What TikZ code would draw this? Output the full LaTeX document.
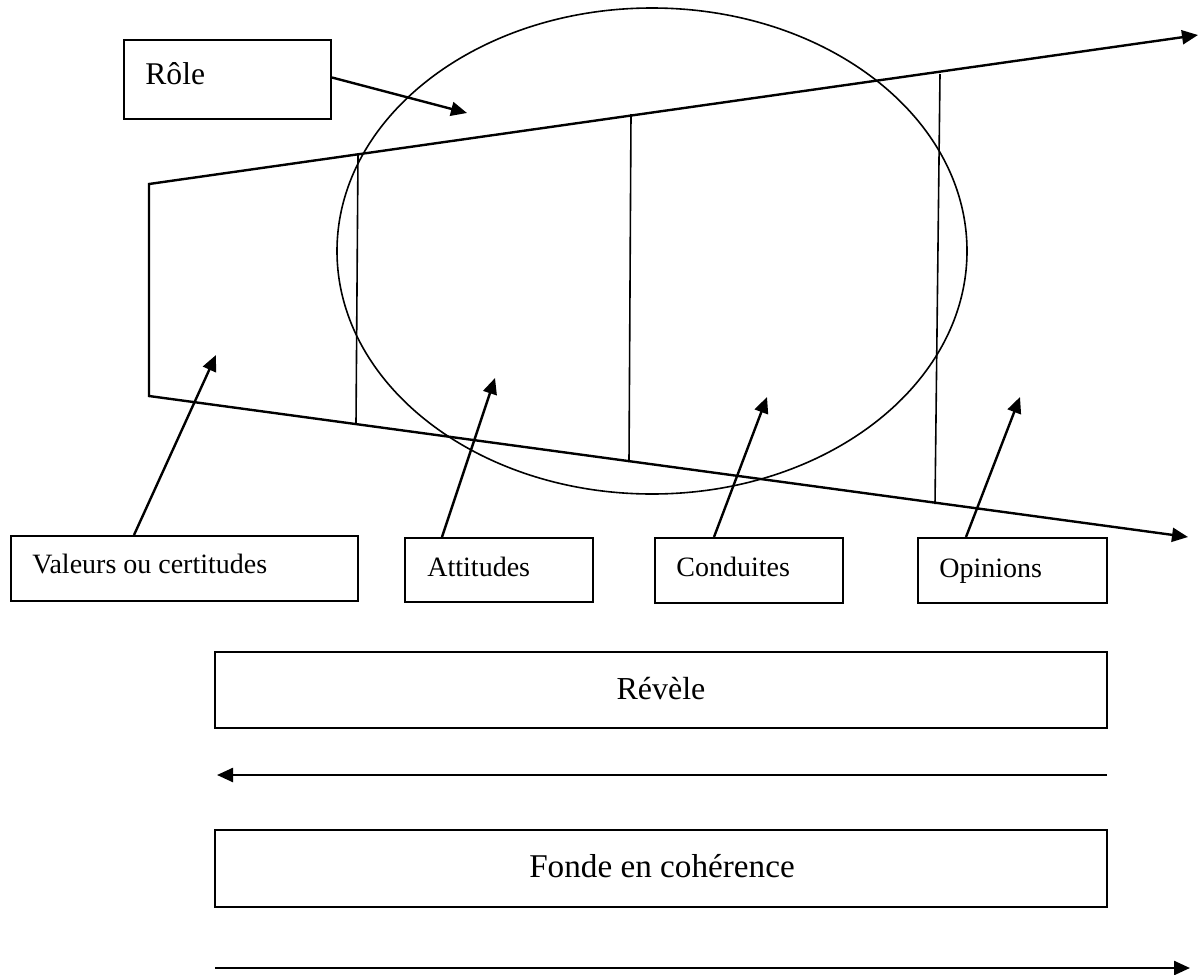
\documentclass[tikz,border=0pt]{standalone}
\usepackage{fontspec}
\setmainfont{Liberation Serif}
\usetikzlibrary{arrows.meta,calc}
\tikzset{
  box/.style={draw, line width=1pt, inner sep=0pt},
  lbl/.style={inner sep=0pt, font=\fontsize{14}{16}\selectfont},
  big/.style={inner sep=0pt, font=\fontsize{16}{19}\selectfont},
  tip/.tip={Triangle[length=8pt,width=7pt]},
  conn/.style={line width=1.2pt, -tip},
  thin/.style={line width=0.8pt},
}
\begin{document}
\begin{tikzpicture}[x=0.5pt,y=-0.5pt]
\useasboundingbox (0,0) rectangle (1200,975);
% ellipse
\draw[thin] (652,251) ellipse [x radius=315, y radius=243];
% trapezoid / funnel
\coordinate (tl) at (149,184);
\coordinate (bl) at (149,396);
\coordinate (tr) at (1198,35);
\coordinate (br) at (1188,537);
\draw[line width=1.2pt, line join=miter, tip-tip] (tr) -- (tl) -- (bl) -- (br);
% vertical dividers
\coordinate (v1t) at (358,154); \coordinate (v1b) at (356,424);
\coordinate (v2t) at (631,114); \coordinate (v2b) at (629,462);
\coordinate (v3t) at (940,74);  \coordinate (v3b) at (935,504);
\draw[thin] (v1t) -- (v1b);
\draw[thin] (v2t) -- (v2b);
\draw[thin] (v3t) -- (v3b);
% Role
\node[box, minimum width=103.5pt, minimum height=39.5pt] (role) at (227.5,79.5) {};
\node[big, anchor=base west, font=\fontsize{15.8}{18}\selectfont] (roleT) at (145,84) {Rôle};
\coordinate (roleTip) at (467,113);
\draw[conn] ($(role.east)+(0,-2)$) -- (roleTip);
% bottom boxes
\node[box, minimum width=173.5pt, minimum height=32.5pt] (val) at (184.5,568.5) {};
\node[lbl, anchor=base west] (valT) at (32,573) {Valeurs ou certitudes};
\node[box, minimum width=94pt, minimum height=32pt] (att) at (499,570) {};
\node[lbl, anchor=base west] (attT) at (427,576) {Attitudes};
\node[box, minimum width=94pt, minimum height=32.5pt] (con) at (749,570.5) {};
\node[lbl, anchor=base west] (conT) at (676,576) {Conduites};
\node[box, minimum width=94.5pt, minimum height=32.5pt] (opi) at (1012.5,570.5) {};
\node[lbl, anchor=base west] (opiT) at (939,577) {Opinions};
% arrows from boxes
\coordinate (valTip) at (216,355);
\coordinate (attTip) at (495,378);
\coordinate (conTip) at (767,397);
\coordinate (opiTip) at (1020,397);
\draw[conn] ($(val.north west)+(124,0)$) -- (valTip);
\draw[conn] ($(att.north west)+(38,0)$) -- (attTip);
\draw[conn] ($(con.north west)+(60,0)$) -- (conTip);
\draw[conn] ($(opi.north west)+(49,0)$) -- (opiTip);
% Revele
\node[box, minimum width=446pt, minimum height=38pt] (rev) at (661,690) {};
\node[big] (revT) at (661,689) {Révèle};
\coordinate (a1s) at (1107,775);
\coordinate (a1e) at (217,775);
\draw[conn] (a1s) -- (a1e);
% Fonde
\node[box, minimum width=446pt, minimum height=38.5pt] (fon) at (661,868.5) {};
\node[big, font=\fontsize{16.6}{19}\selectfont] (fonT) at (662,866) {Fonde en cohérence};
\coordinate (a2s) at (215,968);
\coordinate (a2e) at (1190,968);
\draw[conn] (a2s) -- (a2e);
\end{tikzpicture}
\end{document}
